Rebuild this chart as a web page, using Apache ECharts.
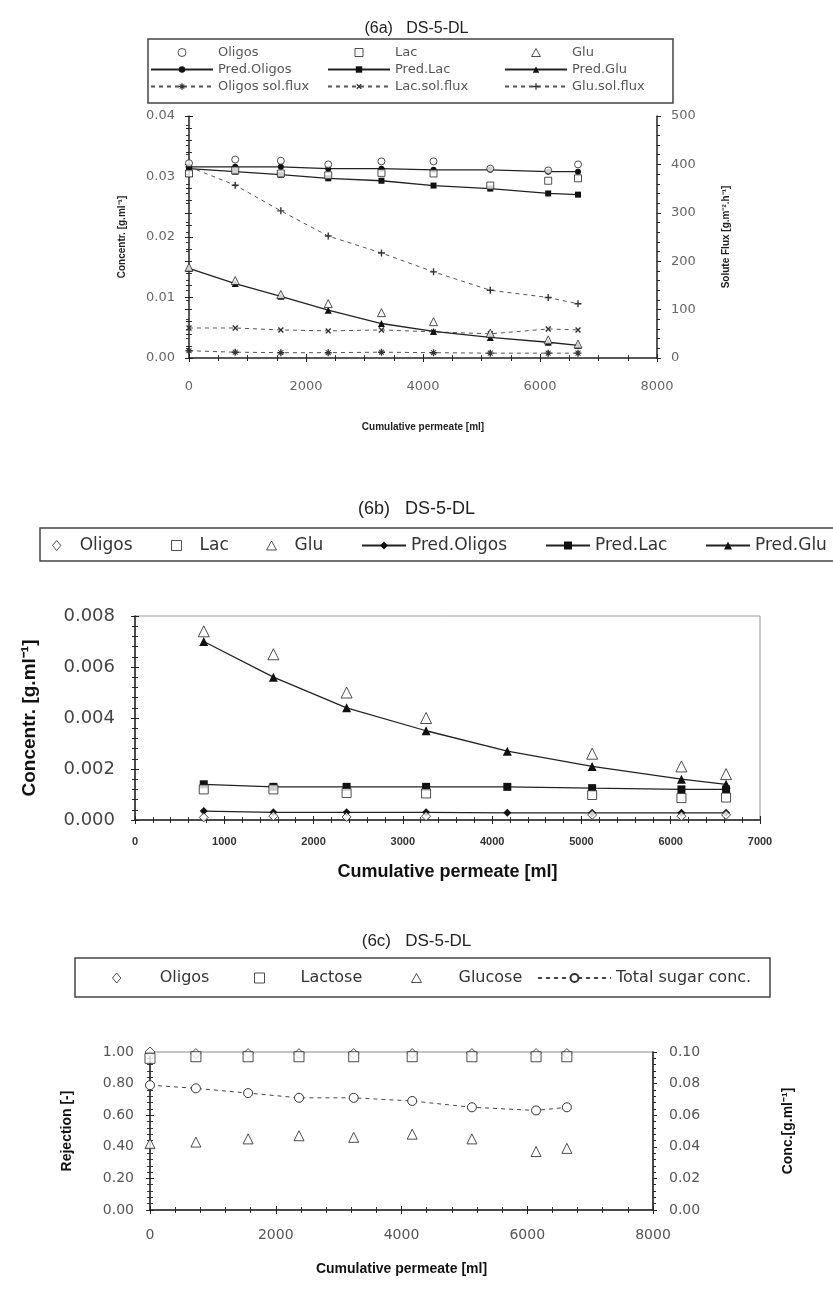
<!DOCTYPE html>
<html>
<head>
<meta charset="utf-8">
<title>DS-5-DL</title>
<script src="https://cdn.jsdelivr.net/npm/echarts@6.0.0/dist/echarts.min.js"></script>
<style>
    html, body { margin: 0; padding: 0; background: #fff; }
    #main { width: 833px; height: 1295px; }
</style>
</head>
<body>
<div id="main"></div>
<script>
    // ---- (6a) concentrations and solute flux ----
    var permA = [0, 790, 1570, 2380, 3290, 4180, 5150, 6140, 6650];
    var oligosA = [0.0322, 0.0328, 0.0326, 0.0320, 0.0325, 0.0325, 0.0313, 0.0310, 0.0320];
    var lacA = [0.0305, 0.0310, 0.0305, 0.0302, 0.0306, 0.0305, 0.0285, 0.0293, 0.0297];
    var gluA = [0.0150, 0.0128, 0.0105, 0.0090, 0.0075, 0.0060, 0.0041, 0.0030, 0.0023];
    var predOligosA = [0.0316, 0.0316, 0.0316, 0.0313, 0.0313, 0.0311, 0.0311, 0.0308, 0.0308];
    var predLacA = [0.0313, 0.0308, 0.0303, 0.0297, 0.0293, 0.0285, 0.0280, 0.0272, 0.0270];
    var predGluA = [0.0148, 0.0123, 0.0102, 0.0079, 0.0057, 0.0044, 0.0034, 0.0026, 0.0021];
    var oligosFluxA = [15, 12, 11, 11, 12, 11, 10, 10, 10];
    var lacFluxA = [62, 62, 58, 56, 58, 54, 50, 60, 58];
    var gluFluxA = [395, 357, 304, 252, 217, 178, 140, 125, 112];

    // ---- (6b) permeate concentrations ----
    var permB = [770, 1550, 2370, 3260, 4170, 5120, 6120, 6620];
    var oligosB = [0.0001, 0.00015, 0.00012, 0.00015, null, 0.0002, 0.00015, 0.0002];
    var lacB = [0.0012, 0.0012, 0.00106, 0.00104, null, 0.00098, 0.00086, 0.00088];
    var gluB = [0.0074, 0.0065, 0.0050, 0.0040, null, 0.0026, 0.0021, 0.0018];
    var predOligosB = [0.00035, 0.0003, 0.0003, 0.0003, 0.00028, 0.00028, 0.00028, 0.00028];
    var predLacB = [0.0014, 0.0013, 0.0013, 0.0013, 0.0013, 0.00125, 0.0012, 0.0012];
    var predGluB = [0.0070, 0.0056, 0.0044, 0.0035, 0.0027, 0.0021, 0.0016, 0.0014];

    // ---- (6c) rejection and total sugar ----
    var permC = [0, 730, 1560, 2370, 3240, 4170, 5120, 6140, 6630];
    var oligosC = [1.0, 0.99, 0.99, 0.99, 0.99, 0.99, 0.99, 0.99, 0.99];
    var lactoseC = [0.96, 0.97, 0.97, 0.97, 0.97, 0.97, 0.97, 0.97, 0.97];
    var glucoseC = [0.42, 0.43, 0.45, 0.47, 0.46, 0.48, 0.45, 0.37, 0.39];
    var totalC = [0.079, 0.077, 0.074, 0.071, 0.071, 0.069, 0.065, 0.063, 0.065];

    var sans = 'Liberation Sans, Arial, sans-serif';
    var wide = 'DejaVu Sans, sans-serif';
    var plusPath = 'path://M4,0H6V4H10V6H6V10H4V6H0V4H4Z';
    var starPath = 'path://M4,0H6V4H10V6H6V10H4V6H0V4H4Z M1,2L2,1L9,8L8,9Z M8,1L9,2L2,9L1,8Z';
    // legend icons as paths so they keep their aspect
    var circleIcon = 'path://M0,5A5,5,0,1,0,10,5A5,5,0,1,0,0,5Z';
    var rectIcon = 'path://M0,0H10V10H0Z';
    var triIcon = 'path://M5,0L10,9H0Z';
    var diamondIcon = 'path://M5,0L10,6L5,12L0,6Z';

    function pairs(xs, ys) {
        var out = [];
        for (var i = 0; i < xs.length; i++) {
            if (ys[i] != null) out.push([xs[i], ys[i]]);
        }
        return out;
    }
    function openPoint(name, sym, size, xi, yi, xs, ys) {
        return {
            name: name, type: 'scatter', xAxisIndex: xi, yAxisIndex: yi,
            symbol: sym, symbolSize: size, z: 4,
            itemStyle: { color: '#fff', borderColor: '#222', borderWidth: 1 },
            data: pairs(xs, ys)
        };
    }
    function predLine(name, sym, size, xi, yi, xs, ys) {
        return {
            name: name, type: 'line', xAxisIndex: xi, yAxisIndex: yi,
            symbol: sym, symbolSize: size, z: 3,
            itemStyle: { color: '#111' },
            lineStyle: { color: '#222', width: 1.3 },
            data: pairs(xs, ys)
        };
    }
    function fluxLine(name, sym, rot, xs, ys) {
        return {
            name: name, type: 'line', xAxisIndex: 0, yAxisIndex: 1,
            symbol: sym, symbolSize: 7, symbolRotate: rot, z: 2,
            itemStyle: { color: '#333' },
            lineStyle: { color: '#555', width: 1, type: [4, 4] },
            data: pairs(xs, ys)
        };
    }
    function openItem(name, icon) {
        return { name: name, icon: icon, itemStyle: { borderWidth: 1 } };
    }
    // one legend entry per component, so each can sit where the original puts it
    function pointKey(name, icon, cx, top, textGap, size) {
        return {
            data: [openItem(name, icon)], left: cx - 5, top: top, padding: 0,
            itemWidth: 10, itemHeight: 10, symbolKeepAspect: true, formatter: dropTag,
            textStyle: { fontFamily: wide, fontSize: size, color: '#333', padding: [0, 0, 0, textGap - 10] }
        };
    }
    function lineKey(name, x0, len, top, size) {
        return {
            data: [name], left: x0, top: top, padding: 0,
            itemWidth: len, itemHeight: 10, formatter: dropTag,
            textStyle: { fontFamily: wide, fontSize: size, color: '#333' }
        };
    }
    function axisBase(o) {
        var base = {
            type: 'value',
            axisLine: { show: true, onZero: false, lineStyle: { color: '#222', width: 1.5 } },
            axisTick: { show: true, length: 4, lineStyle: { color: '#222' } },
            minorTick: { show: true, length: 3, lineStyle: { color: '#333' } },
            splitLine: { show: false },
            nameLocation: 'middle'
        };
        for (var k in o) base[k] = o[k];
        return base;
    }
    // second copy of an axis that only draws the inner half of the ticks
    function innerTicks(ax) {
        return {
            type: 'value', gridIndex: ax.gridIndex, position: ax.position,
            min: ax.min, max: ax.max, interval: ax.interval,
            axisLine: { show: false },
            axisLabel: { show: false },
            axisTick: { show: true, inside: true, length: 4, lineStyle: { color: '#222' } },
            minorTick: { show: true, splitNumber: ax.minorTick.splitNumber, length: 3, lineStyle: { color: '#333' } },
            splitLine: { show: false }
        };
    }
    function dropTag(n) { return n.split('#')[0]; }
    function plain(v) { return String(v); }

    var xAxes = [
        axisBase({ gridIndex: 0, position: 'bottom', min: 0, max: 8000, interval: 2000, minorTick: { show: true, splitNumber: 4, length: 3 },
            axisLabel: { fontFamily: wide, fontSize: 13, color: '#666', margin: 22, formatter: plain },
            name: 'Cumulative permeate [ml]', nameGap: 64, nameTextStyle: { fontFamily: sans, fontSize: 10, fontWeight: 'bold', color: '#222' } }),
        axisBase({ gridIndex: 1, position: 'bottom', min: 0, max: 7000, interval: 1000, minorTick: { show: true, splitNumber: 5, length: 3 },
            axisLabel: { fontFamily: sans, fontSize: 11, fontWeight: 'bold', color: '#333', margin: 16, formatter: plain },
            name: 'Cumulative permeate [ml]', nameGap: 43, nameTextStyle: { fontFamily: sans, fontSize: 18, fontWeight: 'bold', color: '#111' } }),
        axisBase({ gridIndex: 2, position: 'bottom', min: 0, max: 8000, interval: 2000, minorTick: { show: true, splitNumber: 5, length: 3 },
            axisLabel: { fontFamily: wide, fontSize: 14, color: '#555', margin: 18, formatter: plain },
            name: 'Cumulative permeate [ml]', nameGap: 52, nameTextStyle: { fontFamily: sans, fontSize: 14, fontWeight: 'bold', color: '#111' } })
    ];
    var yAxes = [
        axisBase({ gridIndex: 0, position: 'left', min: 0, max: 0.04, interval: 0.01, minorTick: { show: true, splitNumber: 5, length: 3 },
            axisLabel: { fontFamily: wide, fontSize: 13, color: '#666', margin: 14, formatter: function (v) { return v.toFixed(2); } },
            name: 'Concentr. [g.ml⁻¹]', nameGap: 62, nameTextStyle: { fontFamily: sans, fontSize: 10, fontWeight: 'bold', color: '#222' } }),
        axisBase({ gridIndex: 0, position: 'right', min: 0, max: 500, interval: 100, minorTick: { show: true, splitNumber: 5, length: 3 },
            axisLabel: { fontFamily: wide, fontSize: 13, color: '#666', margin: 14 },
            name: 'Solute Flux [g.m⁻².h⁻¹]', nameGap: 64, nameTextStyle: { fontFamily: sans, fontSize: 10, fontWeight: 'bold', color: '#222' } }),
        axisBase({ gridIndex: 1, position: 'left', min: 0, max: 0.008, interval: 0.002, minorTick: { show: true, splitNumber: 5, length: 3 },
            axisLabel: { fontFamily: wide, fontSize: 18, color: '#444', margin: 20, formatter: function (v) { return v.toFixed(3); } },
            name: 'Concentr. [g.ml⁻¹]', nameGap: 96, nameTextStyle: { fontFamily: sans, fontSize: 19, fontWeight: 'bold', color: '#111' } }),
        axisBase({ gridIndex: 2, position: 'left', min: 0, max: 1, interval: 0.2, minorTick: { show: true, splitNumber: 5, length: 3 },
            axisLabel: { fontFamily: wide, fontSize: 14, color: '#555', margin: 16, formatter: function (v) { return v.toFixed(2); } },
            name: 'Rejection [-]', nameGap: 76, nameTextStyle: { fontFamily: sans, fontSize: 14, fontWeight: 'bold', color: '#111' } }),
        axisBase({ gridIndex: 2, position: 'right', min: 0, max: 0.1, interval: 0.02, minorTick: { show: true, splitNumber: 5, length: 3 },
            axisLabel: { fontFamily: wide, fontSize: 14, color: '#555', margin: 16, formatter: function (v) { return v.toFixed(2); } },
            name: 'Conc.[g.ml⁻¹]', nameGap: 128, nameTextStyle: { fontFamily: sans, fontSize: 14, fontWeight: 'bold', color: '#111' } })
    ];
    xAxes = xAxes.concat(xAxes.map(innerTicks));
    yAxes = yAxes.concat(yAxes.map(innerTicks));

    var legends = [
        { data: [openItem('Oligos#a', circleIcon), 'Pred.Oligos#a', 'Oligos sol.flux#a'], orient: 'vertical', left: 150, top: 46, padding: 0,
          itemWidth: 62, itemHeight: 8, itemGap: 4, symbolKeepAspect: true, formatter: dropTag, textStyle: { fontFamily: wide, fontSize: 13, color: '#555' } },
        { data: [openItem('Lac#a', rectIcon), 'Pred.Lac#a', 'Lac.sol.flux#a'], orient: 'vertical', left: 327, top: 46, padding: 0,
          itemWidth: 62, itemHeight: 8, itemGap: 4, symbolKeepAspect: true, formatter: dropTag, textStyle: { fontFamily: wide, fontSize: 13, color: '#555' } },
        { data: [openItem('Glu#a', triIcon), 'Pred.Glu#a', 'Glu.sol.flux#a'], orient: 'vertical', left: 504, top: 46, padding: 0,
          itemWidth: 62, itemHeight: 8, itemGap: 4, symbolKeepAspect: true, formatter: dropTag, textStyle: { fontFamily: wide, fontSize: 13, color: '#555' } },
        // 6b row
        pointKey('Oligos#b', diamondIcon, 57, 537, 23, 17),
        pointKey('Lac#b', rectIcon, 176, 537, 23, 17),
        pointKey('Glu#b', triIcon, 271, 537, 23, 17),
        lineKey('Pred.Oligos#b', 361, 44, 537, 17),
        lineKey('Pred.Lac#b', 545, 44, 537, 17),
        lineKey('Pred.Glu#b', 705, 44, 537, 17),
        // 6c row
        pointKey('Oligos#c', diamondIcon, 117, 970, 43, 16),
        pointKey('Lactose#c', rectIcon, 259, 970, 41, 16),
        pointKey('Glucose#c', triIcon, 416, 970, 42, 16),
        lineKey('Total sugar conc.#c', 537, 73, 970, 16)
    ];

    var myChart = echarts.init(document.getElementById('main'));

    var option = {
        animation: false,
        backgroundColor: '#fff',
        title: [
            { text: '(6a)   DS-5-DL', left: 'center', top: 16, textStyle: { fontFamily: sans, fontSize: 16, fontWeight: 'normal', color: '#222' } },
            { text: '(6b)   DS-5-DL', left: 'center', top: 495, textStyle: { fontFamily: sans, fontSize: 18, fontWeight: 'normal', color: '#222' } },
            { text: '(6c)   DS-5-DL', left: 'center', top: 928, textStyle: { fontFamily: sans, fontSize: 17, fontWeight: 'normal', color: '#222' } }
        ],
        graphic: [
            { type: 'rect', shape: { x: 148, y: 39, width: 525, height: 64 }, style: { fill: 'none', stroke: '#444', lineWidth: 1.5 } },
            { type: 'rect', shape: { x: 40, y: 528, width: 820, height: 33 }, style: { fill: 'none', stroke: '#444', lineWidth: 1.5 } },
            { type: 'rect', shape: { x: 75, y: 958, width: 695, height: 39 }, style: { fill: 'none', stroke: '#444', lineWidth: 1.5 } }
        ],
        legend: legends,
        grid: [
            { left: 189, top: 116, width: 468, height: 242 },
            { left: 135, top: 616, width: 625, height: 204, show: true, borderColor: '#999', borderWidth: 1 },
            { left: 150, top: 1052, width: 503, height: 158, show: true, borderColor: '#888', borderWidth: 1 }
        ],
        xAxis: xAxes,
        yAxis: yAxes,
        series: [
            // 6a
            openPoint('Oligos#a', 'circle', 7, 0, 0, permA, oligosA),
            openPoint('Lac#a', 'rect', 7, 0, 0, permA, lacA),
            openPoint('Glu#a', 'triangle', 8, 0, 0, permA, gluA),
            predLine('Pred.Oligos#a', 'circle', 6, 0, 0, permA, predOligosA),
            predLine('Pred.Lac#a', 'rect', 6, 0, 0, permA, predLacA),
            predLine('Pred.Glu#a', 'triangle', 7, 0, 0, permA, predGluA),
            fluxLine('Oligos sol.flux#a', starPath, 0, permA, oligosFluxA),
            fluxLine('Lac.sol.flux#a', plusPath, 45, permA, lacFluxA),
            fluxLine('Glu.sol.flux#a', plusPath, 0, permA, gluFluxA),
            // 6b
            openPoint('Oligos#b', 'diamond', 9, 1, 2, permB, oligosB),
            openPoint('Lac#b', 'rect', 9, 1, 2, permB, lacB),
            openPoint('Glu#b', 'triangle', 11, 1, 2, permB, gluB),
            predLine('Pred.Oligos#b', 'diamond', 8, 1, 2, permB, predOligosB),
            predLine('Pred.Lac#b', 'rect', 8, 1, 2, permB, predLacB),
            predLine('Pred.Glu#b', 'triangle', 9, 1, 2, permB, predGluB),
            // 6c
            openPoint('Oligos#c', 'diamond', 10, 2, 3, permC, oligosC),
            openPoint('Lactose#c', 'rect', 10, 2, 3, permC, lactoseC),
            openPoint('Glucose#c', 'triangle', 10, 2, 3, permC, glucoseC),
            {
                name: 'Total sugar conc.#c', type: 'line', xAxisIndex: 2, yAxisIndex: 4,
                symbol: 'circle', symbolSize: 9, z: 4,
                itemStyle: { color: '#fff', borderColor: '#333', borderWidth: 1 },
                lineStyle: { color: '#444', width: 1, type: [4, 4] },
                data: pairs(permC, totalC)
            }
        ]
    };

    myChart.setOption(option);
</script>
</body>
</html>
